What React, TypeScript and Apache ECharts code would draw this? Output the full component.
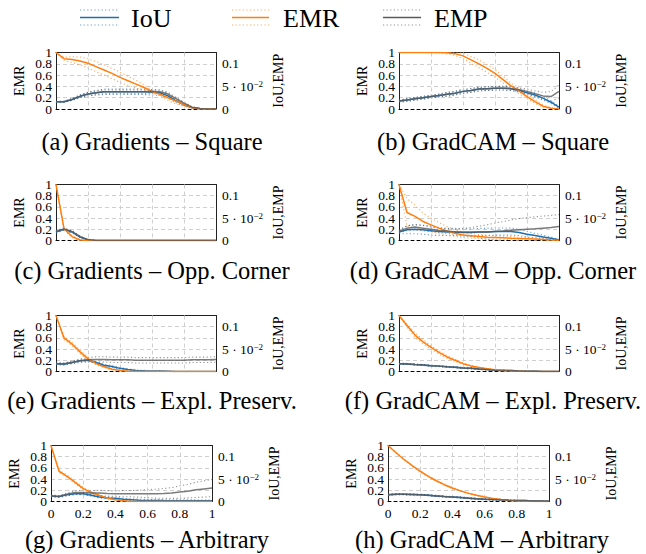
import React, { useEffect, useRef } from "react";
import * as echarts from "echarts";

// ---------- data ----------
const X = [0, 0.05, 0.1, 0.15, 0.2, 0.25, 0.3, 0.35, 0.4, 0.45, 0.5, 0.55, 0.6, 0.65, 0.7, 0.75, 0.8, 0.85, 0.9, 0.95, 1];

const legendNames = ["IoU", "EMR", "EMP"];
const captions = [
  "(a) Gradients – Square",
  "(b) GradCAM – Square",
  "(c) Gradients – Opp. Corner",
  "(d) GradCAM – Opp. Corner",
  "(e) Gradients – Expl. Preserv.",
  "(f) GradCAM – Expl. Preserv.",
  "(g) Gradients – Arbitrary",
  "(h) GradCAM – Arbitrary",
];
const xTickValues = [0, 0.2, 0.4, 0.6, 0.8, 1];
const xTickLabels = ["0", "0.2", "0.4", "0.6", "0.8", "1"];
const leftTickValues = [0, 0.2, 0.4, 0.6, 0.8, 1];
const leftTickLabels = ["0", "0.2", "0.4", "0.6", "0.8", "1"];
const rightTickValues = [0, 0.05, 0.1];
const rightTickLabels = ["0", "5 · 10{sup|−2}", "0.1"];

// (a) Gradients – Square
const aEmr = [1.0, 0.89, 0.875, 0.85, 0.81, 0.75, 0.69, 0.63, 0.56, 0.5, 0.44, 0.38, 0.31, 0.26, 0.2, 0.14, 0.08, 0.02, 0, 0, 0];
const aEmrSd = [0, 0.03, 0.05, 0.07, 0.08, 0.09, 0.09, 0.09, 0.09, 0.08, 0.07, 0.05, 0.02, 0.03, 0.05, 0.05, 0.04, 0.02, 0, 0, 0];
const aIou = [0.016, 0.016, 0.021, 0.028, 0.033, 0.036, 0.038, 0.038, 0.038, 0.038, 0.038, 0.038, 0.037, 0.036, 0.029, 0.018, 0.009, 0.003, 0.001, 0, 0];
const aIouSd = [0.001, 0.001, 0.002, 0.003, 0.004, 0.005, 0.006, 0.006, 0.006, 0.006, 0.006, 0.006, 0.006, 0.006, 0.005, 0.004, 0.003, 0.001, 0, 0, 0];
const aEmp = [0.016, 0.016, 0.021, 0.028, 0.033, 0.036, 0.038, 0.038, 0.038, 0.038, 0.038, 0.038, 0.039, 0.038, 0.033, 0.023, 0.013, 0.004, 0.001, 0, 0];
const aEmpSd = [0.001, 0.001, 0.002, 0.003, 0.004, 0.004, 0.004, 0.004, 0.004, 0.004, 0.004, 0.004, 0.004, 0.004, 0.004, 0.003, 0.002, 0.001, 0, 0, 0];

// (b) GradCAM – Square
const bEmr = [1, 1, 1, 1, 1, 1, 0.995, 0.98, 0.94, 0.87, 0.8, 0.72, 0.63, 0.52, 0.41, 0.32, 0.22, 0.13, 0.05, 0.015, 0];
const bEmrSd = [0, 0, 0, 0, 0.005, 0.01, 0.02, 0.03, 0.05, 0.06, 0.07, 0.07, 0.07, 0.06, 0.05, 0.05, 0.04, 0.03, 0.02, 0.01, 0];
const bIou = [0.0175, 0.02, 0.0225, 0.025, 0.0275, 0.03, 0.0325, 0.035, 0.039, 0.041, 0.044, 0.045, 0.046, 0.046, 0.045, 0.041, 0.036, 0.031, 0.024, 0.015, 0.004];
const bIouSd = [0.002, 0.003, 0.003, 0.003, 0.003, 0.003, 0.004, 0.004, 0.004, 0.004, 0.004, 0.004, 0.004, 0.004, 0.004, 0.004, 0.004, 0.004, 0.004, 0.003, 0.002];
const bEmp = [0.0175, 0.02, 0.0225, 0.025, 0.0275, 0.03, 0.0325, 0.035, 0.039, 0.041, 0.044, 0.045, 0.046, 0.046, 0.045, 0.0425, 0.039, 0.034, 0.029, 0.0275, 0.039];
const bEmpSd = [0.002, 0.003, 0.003, 0.003, 0.003, 0.003, 0.004, 0.004, 0.004, 0.004, 0.004, 0.004, 0.004, 0.004, 0.004, 0.004, 0.005, 0.006, 0.008, 0.011, 0.014];

// (c) Gradients – Opp. Corner
const cEmr = [1.0, 0.21, 0.07, 0.01, 0, 0, 0, 0, 0, 0, 0, 0, 0, 0, 0, 0, 0, 0, 0, 0, 0];
const cEmrSd = [0, 0.02, 0.02, 0.01, 0, 0, 0, 0, 0, 0, 0, 0, 0, 0, 0, 0, 0, 0, 0, 0, 0];
const cIou = [0.019, 0.025, 0.019, 0.0075, 0.001, 0, 0, 0, 0, 0, 0, 0, 0, 0, 0, 0, 0, 0, 0, 0, 0];
const cIouSd = [0.002, 0.002, 0.002, 0.001, 0, 0, 0, 0, 0, 0, 0, 0, 0, 0, 0, 0, 0, 0, 0, 0, 0];
const cEmp = [0.02, 0.026, 0.02, 0.009, 0.002, 0, 0, 0, 0, 0, 0, 0, 0, 0, 0, 0, 0, 0, 0, 0, 0];
const cEmpSd = [0.002, 0.002, 0.002, 0.001, 0, 0, 0, 0, 0, 0, 0, 0, 0, 0, 0, 0, 0, 0, 0, 0, 0];

// (d) GradCAM – Opp. Corner
const dEmr = [1.0, 0.5, 0.43, 0.34, 0.28, 0.22, 0.17, 0.13, 0.1, 0.085, 0.07, 0.06, 0.055, 0.05, 0.04, 0.035, 0.03, 0.025, 0.02, 0.01, 0.005];
const dEmrSd = [0, 0.25, 0.2, 0.15, 0.12, 0.1, 0.08, 0.06, 0.05, 0.04, 0.04, 0.035, 0.03, 0.03, 0.03, 0.025, 0.025, 0.02, 0.02, 0.01, 0.005];
const dIou = [0.019, 0.024, 0.025, 0.024, 0.022, 0.02, 0.019, 0.019, 0.018, 0.018, 0.019, 0.019, 0.02, 0.02, 0.02, 0.018, 0.014, 0.011, 0.008, 0.005, 0.001];
const dIouSd = [0.004, 0.009, 0.01, 0.01, 0.01, 0.009, 0.008, 0.008, 0.008, 0.008, 0.008, 0.008, 0.008, 0.008, 0.008, 0.007, 0.006, 0.005, 0.004, 0.003, 0.001];
const dEmp = [0.02, 0.0275, 0.03, 0.0275, 0.025, 0.0225, 0.021, 0.019, 0.019, 0.019, 0.019, 0.019, 0.02, 0.021, 0.023, 0.024, 0.025, 0.026, 0.0275, 0.029, 0.031];
const dEmpSd = [0.003, 0.005, 0.006, 0.006, 0.005, 0.005, 0.005, 0.006, 0.008, 0.01, 0.013, 0.016, 0.019, 0.021, 0.023, 0.025, 0.026, 0.027, 0.027, 0.027, 0.027];

// (e) Gradients – Expl. Preserv.
const eEmr = [1.0, 0.6, 0.49, 0.35, 0.23, 0.14, 0.085, 0.04, 0.02, 0.005, 0, 0, 0, 0, 0, 0, 0, 0, 0, 0, 0];
const eEmrSd = [0, 0.03, 0.03, 0.03, 0.03, 0.02, 0.015, 0.01, 0.005, 0, 0, 0, 0, 0, 0, 0, 0, 0, 0, 0, 0];
const eIou = [0.0175, 0.016, 0.02, 0.024, 0.025, 0.02, 0.014, 0.011, 0.007, 0.0045, 0.0025, 0.0015, 0.001, 0.001, 0.0005, 0, 0, 0, 0, 0, 0];
const eIouSd = [0.002, 0.002, 0.002, 0.002, 0.002, 0.002, 0.002, 0.002, 0.002, 0.001, 0.001, 0.001, 0.001, 0.001, 0, 0, 0, 0, 0, 0, 0];
const eEmp = [0.0175, 0.0175, 0.02, 0.024, 0.026, 0.027, 0.027, 0.026, 0.026, 0.026, 0.025, 0.025, 0.025, 0.025, 0.025, 0.025, 0.025, 0.026, 0.026, 0.026, 0.027];
const eEmpSd = [0.002, 0.002, 0.003, 0.004, 0.005, 0.006, 0.006, 0.006, 0.006, 0.006, 0.006, 0.006, 0.006, 0.006, 0.006, 0.006, 0.006, 0.006, 0.006, 0.006, 0.006];

// (f) GradCAM – Expl. Preserv.
const fEmr = [1.0, 0.82, 0.65, 0.53, 0.43, 0.34, 0.26, 0.2, 0.14, 0.1, 0.07, 0.05, 0.03, 0.02, 0.01, 0.005, 0, 0, 0, 0, 0];
const fEmrSd = [0, 0.03, 0.04, 0.04, 0.03, 0.03, 0.025, 0.02, 0.015, 0.01, 0.01, 0.005, 0.005, 0, 0, 0, 0, 0, 0, 0, 0];
const fIou = [0.0175, 0.017, 0.0155, 0.0145, 0.013, 0.012, 0.0105, 0.0095, 0.008, 0.007, 0.0055, 0.0045, 0.003, 0.0025, 0.002, 0.0012, 0.0006, 0.0003, 0, 0, 0];
const fIouSd = [0.001, 0.001, 0.001, 0.001, 0.001, 0.001, 0.001, 0.001, 0.001, 0.001, 0.001, 0.001, 0.001, 0, 0, 0, 0, 0, 0, 0, 0];
const fEmp = [0.0175, 0.017, 0.0155, 0.0145, 0.013, 0.012, 0.0105, 0.0095, 0.008, 0.007, 0.0055, 0.0045, 0.003, 0.0025, 0.002, 0.0012, 0.0006, 0.0003, 0, 0, 0];
const fEmpSd = [0.001, 0.001, 0.001, 0.001, 0.001, 0.001, 0.001, 0.001, 0.001, 0.001, 0.001, 0.001, 0.001, 0, 0, 0, 0, 0, 0, 0, 0];

// (g) Gradients – Arbitrary
const gEmr = [1.0, 0.54, 0.45, 0.34, 0.23, 0.16, 0.11, 0.06, 0.03, 0.012, 0, 0, 0, 0, 0, 0, 0, 0, 0, 0, 0];
const gEmrSd = [0, 0.02, 0.02, 0.02, 0.02, 0.015, 0.01, 0.01, 0.005, 0, 0, 0, 0, 0, 0, 0, 0, 0, 0, 0, 0];
const gIou = [0.0125, 0.011, 0.015, 0.0175, 0.0175, 0.014, 0.01, 0.008, 0.007, 0.005, 0.004, 0.003, 0.0025, 0.0022, 0.002, 0.0019, 0.0018, 0.0016, 0.0015, 0.0015, 0.0015];
const gIouSd = [0.001, 0.001, 0.002, 0.002, 0.002, 0.002, 0.002, 0.002, 0.002, 0.002, 0.002, 0.002, 0.002, 0.002, 0.002, 0.002, 0.002, 0.002, 0.002, 0.002, 0.002];
const gEmp = [0.0125, 0.011, 0.016, 0.02, 0.02, 0.019, 0.019, 0.018, 0.0175, 0.0175, 0.0175, 0.0175, 0.0175, 0.0175, 0.018, 0.019, 0.021, 0.023, 0.026, 0.028, 0.03];
const gEmpSd = [0.002, 0.002, 0.003, 0.004, 0.005, 0.005, 0.006, 0.006, 0.006, 0.007, 0.007, 0.008, 0.009, 0.01, 0.011, 0.012, 0.014, 0.015, 0.017, 0.018, 0.019];

// (h) GradCAM – Arbitrary
const hEmr = [1.0, 0.87, 0.75, 0.64, 0.54, 0.45, 0.37, 0.3, 0.24, 0.19, 0.145, 0.11, 0.08, 0.055, 0.035, 0.02, 0.01, 0.005, 0.002, 0, 0];
const hEmrSd = [0, 0.01, 0.01, 0.01, 0.01, 0.01, 0.01, 0.01, 0.01, 0.01, 0.01, 0.01, 0.005, 0.005, 0.005, 0, 0, 0, 0, 0, 0];
const hIou = [0.015, 0.016, 0.016, 0.0155, 0.015, 0.014, 0.0125, 0.011, 0.01, 0.009, 0.0075, 0.006, 0.005, 0.0045, 0.004, 0.003, 0.0025, 0.002, 0.0012, 0.001, 0.0006];
const hIouSd = [0.001, 0.001, 0.001, 0.001, 0.001, 0.001, 0.001, 0.001, 0.001, 0.001, 0.001, 0.001, 0.001, 0.001, 0.001, 0, 0, 0, 0, 0, 0];
const hEmp = [0.015, 0.016, 0.016, 0.0155, 0.015, 0.014, 0.0125, 0.011, 0.01, 0.009, 0.0075, 0.006, 0.005, 0.0045, 0.004, 0.003, 0.0025, 0.002, 0.0012, 0.001, 0.0006];
const hEmpSd = [0.001, 0.001, 0.001, 0.001, 0.001, 0.001, 0.001, 0.001, 0.001, 0.001, 0.001, 0.001, 0.001, 0.001, 0.001, 0, 0, 0, 0, 0, 0];

const panels = [
  { emr: aEmr, emrSd: aEmrSd, iou: aIou, iouSd: aIouSd, emp: aEmp, empSd: aEmpSd },
  { emr: bEmr, emrSd: bEmrSd, iou: bIou, iouSd: bIouSd, emp: bEmp, empSd: bEmpSd },
  { emr: cEmr, emrSd: cEmrSd, iou: cIou, iouSd: cIouSd, emp: cEmp, empSd: cEmpSd },
  { emr: dEmr, emrSd: dEmrSd, iou: dIou, iouSd: dIouSd, emp: dEmp, empSd: dEmpSd },
  { emr: eEmr, emrSd: eEmrSd, iou: eIou, iouSd: eIouSd, emp: eEmp, empSd: eEmpSd },
  { emr: fEmr, emrSd: fEmrSd, iou: fIou, iouSd: fIouSd, emp: fEmp, empSd: fEmpSd },
  { emr: gEmr, emrSd: gEmrSd, iou: gIou, iouSd: gIouSd, emp: gEmp, empSd: gEmpSd },
  { emr: hEmr, emrSd: hEmrSd, iou: hIou, iouSd: hIouSd, emp: hEmp, empSd: hEmpSd },
];

// ---------- style / layout ----------
const SERIF = "Liberation Serif";
const COL_IOU = "#1f6fb0";
const COL_EMR = "#ff7f0e";
const COL_EMP = "#5a5a5a";
const legendColors = [COL_IOU, COL_EMR, COL_EMP];
const RIGHT_MAX = 0.125;
const TICK_FS = 13.5;

const layout = [
  { left: 56, top: 52.5, width: 160, height: 56.5, capX: 152, capY: 141 },
  { left: 399, top: 52.5, width: 160, height: 56.5, capX: 493, capY: 141 },
  { left: 56, top: 184.5, width: 160, height: 56, capX: 152, capY: 270 },
  { left: 399, top: 184.5, width: 160, height: 56, capX: 493, capY: 270 },
  { left: 56, top: 315.5, width: 160, height: 56, capX: 152, capY: 400 },
  { left: 399, top: 315.5, width: 160, height: 56, capX: 493, capY: 400 },
  { left: 51, top: 445.5, width: 161, height: 56, capX: 147, capY: 539 },
  { left: 388, top: 445.5, width: 161, height: 56, capX: 482, capY: 539 },
];

const legendLayout = [
  { x0: 80, x1: 119, tx: 131 },
  { x0: 232, x1: 269, tx: 283 },
  { x0: 383, x1: 421, tx: 434 },
];

const lookup = (vals: number[], labels: string[]) => (v: number) => {
  const k = vals.findIndex((t) => Math.abs(t - v) < 1e-9);
  return k >= 0 ? labels[k] : "";
};

function buildOption() {
  const grid: any[] = [];
  const xAxis: any[] = [];
  const yAxis: any[] = [];
  const series: any[] = [];
  const graphic: any[] = [];
  const gridLine = { color: "#cfcfcf", width: 1, type: [4, 3] };
  const frame = { color: "#222", width: 1 };
  const labelBase = { color: "#000", fontFamily: SERIF, fontSize: TICK_FS };
  const leftLabel = lookup(leftTickValues, leftTickLabels);
  // left labels split over two coincident axes so that none is dropped as "overlapping"
  const leftMainVals = leftTickValues.filter((_, k) => k % 5 === 0 || k === 2 || k === 3);
  const leftAuxVals = leftTickValues.filter((_, k) => k === 1 || k === 4);

  panels.forEach((p, i) => {
    const L = layout[i];
    const bottomRow = i >= 6;
    grid.push({ left: L.left, top: L.top, width: L.width, height: L.height, containLabel: false });
    xAxis.push({
      gridIndex: i, type: "value", min: 0, max: 1, interval: 0.2, position: "bottom",
      axisLine: { show: true, onZero: false, lineStyle: { color: "#000", width: 1, type: [3, 3] } },
      axisTick: { show: false },
      axisLabel: {
        ...labelBase, show: bottomRow, margin: 5, showMinLabel: true, showMaxLabel: true,
        customValues: xTickValues,
        formatter: lookup(xTickValues, xTickLabels),
      },
      splitLine: { show: true, showMinLine: false, showMaxLine: false, lineStyle: gridLine },
      z: 3,
    });
    xAxis.push({
      gridIndex: i, type: "value", min: 0, max: 1, position: "top",
      axisLine: { show: true, onZero: false, lineStyle: frame },
      axisTick: { show: false }, axisLabel: { show: false }, splitLine: { show: false },
    });
    yAxis.push({
      gridIndex: i, type: "value", min: 0, max: 1, interval: 0.2, position: "left",
      name: "EMR", nameLocation: "middle", nameRotate: 90, nameGap: 30,
      nameTextStyle: { color: "#000", fontFamily: SERIF, fontSize: 14 },
      axisLine: { show: true, onZero: false, lineStyle: frame },
      axisTick: { show: false },
      axisLabel: { ...labelBase, margin: 4, showMinLabel: true, showMaxLabel: true, customValues: leftMainVals, formatter: leftLabel },
      splitLine: { show: true, showMinLine: false, showMaxLine: false, lineStyle: gridLine },
    });
    yAxis.push({
      gridIndex: i, type: "value", min: 0, max: RIGHT_MAX, interval: 0.05, position: "right",
      name: "IoU,EMP", nameLocation: "middle", nameRotate: 90, nameGap: 55,
      nameTextStyle: { color: "#000", fontFamily: SERIF, fontSize: 14 },
      axisLine: { show: true, onZero: false, lineStyle: frame },
      axisTick: { show: false },
      axisLabel: {
        ...labelBase, margin: 6, showMinLabel: true, showMaxLabel: true,
        customValues: rightTickValues,
        formatter: lookup(rightTickValues, rightTickLabels),
        rich: {
          sup: { fontSize: 9, fontFamily: SERIF, color: "#000", verticalAlign: "top", lineHeight: 10, padding: [0, 0, 8, 0] },
        },
      },
      splitLine: { show: false },
    });
    yAxis.push({
      gridIndex: i, type: "value", min: 0, max: 1, interval: 0.2, position: "left",
      axisLine: { show: false }, axisTick: { show: false }, splitLine: { show: false },
      axisLabel: { ...labelBase, margin: 4, showMinLabel: true, showMaxLabel: true, customValues: leftAuxVals, formatter: leftLabel },
    });

    const xi = 2 * i;
    const yl = 3 * i;
    const yr = 3 * i + 1;
    const pts = (arr: number[]) => X.map((x, j) => [x, arr[j]]);
    const up = (m: number[], s: number[], cap: number) => X.map((x, j) => [x, Math.min(cap, m[j] + s[j])]);
    const lo = (m: number[], s: number[]) => X.map((x, j) => [x, Math.max(0, m[j] - s[j])]);
    const dotted = (data: any[], color: string, y: number) => ({
      type: "line", xAxisIndex: xi, yAxisIndex: y, data, symbol: "none", silent: true,
      lineStyle: { color, width: 1.1, type: [1.2, 2.4], opacity: 0.65 }, z: 2,
    });
    const solid = (data: any[], color: string, y: number, op = 1) => ({
      type: "line", xAxisIndex: xi, yAxisIndex: y, data, symbol: "none", silent: true,
      lineStyle: { color, width: 1.5, opacity: op }, z: 3,
    });
    series.push(dotted(up(p.iou, p.iouSd, 1), COL_IOU, yr));
    series.push(dotted(lo(p.iou, p.iouSd), COL_IOU, yr));
    series.push(dotted(up(p.emr, p.emrSd, 1), COL_EMR, yl));
    series.push(dotted(lo(p.emr, p.emrSd), COL_EMR, yl));
    series.push(dotted(up(p.emp, p.empSd, 1), COL_EMP, yr));
    series.push(dotted(lo(p.emp, p.empSd), COL_EMP, yr));
    series.push(solid(pts(p.iou), COL_IOU, yr));
    series.push(solid(pts(p.emr), COL_EMR, yl));
    series.push(solid(pts(p.emp), COL_EMP, yr, 0.8));

    graphic.push({
      type: "text", x: L.capX, y: L.capY,
      style: { text: captions[i], fill: "#000", fontFamily: SERIF, fontSize: 24.5, align: "center", verticalAlign: "middle" },
    });
  });

  legendNames.forEach((name, k) => {
    const g = legendLayout[k];
    const c = legendColors[k];
    graphic.push({ type: "line", shape: { x1: g.x0, y1: 10, x2: g.x1, y2: 10 }, style: { stroke: c, lineWidth: 1.2, lineDash: [1.2, 2.4], opacity: 0.65 } });
    graphic.push({ type: "line", shape: { x1: g.x0, y1: 17.5, x2: g.x1, y2: 17.5 }, style: { stroke: c, lineWidth: 1.6 } });
    graphic.push({ type: "line", shape: { x1: g.x0, y1: 25, x2: g.x1, y2: 25 }, style: { stroke: c, lineWidth: 1.2, lineDash: [1.2, 2.4], opacity: 0.65 } });
    graphic.push({ type: "text", x: g.tx, y: 18, style: { text: name, fill: "#000", fontFamily: SERIF, fontSize: 26, align: "left", verticalAlign: "middle" } });
  });

  return { animation: false, backgroundColor: "#fff", textStyle: { fontFamily: SERIF }, grid, xAxis, yAxis, series, graphic };
}

export default function App() {
  const ref = useRef<HTMLDivElement>(null);
  useEffect(() => {
    if (!ref.current) return;
    const chart = echarts.init(ref.current, undefined, { renderer: "svg" });
    chart.setOption(buildOption() as any);
    return () => chart.dispose();
  }, []);
  return <div ref={ref} style={{ position: "absolute", left: 0, top: 0, width: 646, height: 554 }} />;
}
